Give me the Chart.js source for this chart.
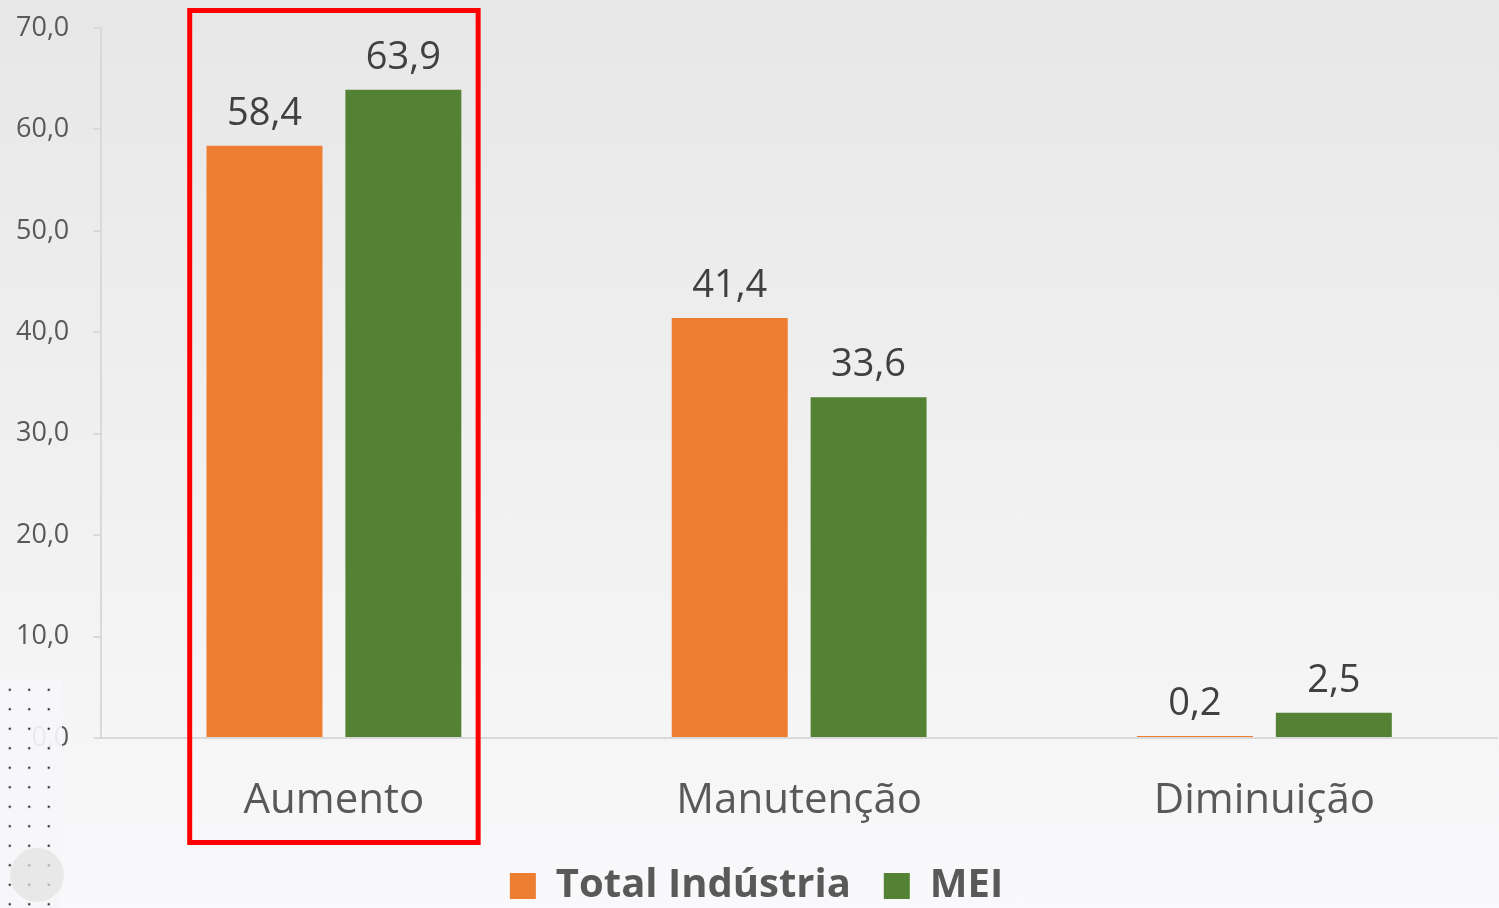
<!DOCTYPE html>
<html>
<head>
<meta charset="utf-8">
<script src="https://cdn.jsdelivr.net/npm/chart.js@4"></script>
<style>
  html, body { margin: 0; padding: 0; }
  body {
    width: 1499px; height: 908px; overflow: hidden; position: relative;
    background: linear-gradient(to bottom, #e7e7e7 0%, #f1f1f2 55%, #f9f9fb 100%);
    font-family: "Open Sans", sans-serif;
  }
  #wrap { position: absolute; left: 0; top: 0; width: 1499px; height: 908px; }
  #dots {
    position: absolute; left: 0; top: 680px; width: 62px; height: 228px;
    background-color: rgba(246,246,248,0.92);
    background-image: radial-gradient(circle, #333 1.1px, transparent 1.6px);
    background-size: 19.5px 19.5px;
  }
  #blob {
    position: absolute; left: 10px; top: 848px; width: 54px; height: 54px;
    border-radius: 50%; background: rgba(225,225,225,0.7);
  }
</style>
</head>
<body>
<div id="wrap"><canvas id="chart" width="1499" height="908"></canvas></div>
<div id="dots"></div>
<div id="blob"></div>
<script>
const categories = ["Aumento", "Manutenção", "Diminuição"];
const totalIndustria = [58.4, 41.4, 0.2];
const mei = [63.9, 33.6, 2.5];
const yTicks = [0, 10, 20, 30, 40, 50, 60, 70];

const fmt = v => v.toFixed(1).replace(".", ",");

const valueLabels = {
  id: "valueLabels",
  afterDatasetsDraw(chart) {
    const ctx = chart.ctx;
    ctx.save();
    ctx.font = "38px 'Open Sans'";
    ctx.fillStyle = "#404040";
    ctx.textAlign = "center";
    ctx.textBaseline = "alphabetic";
    chart.data.datasets.forEach((ds, i) => {
      chart.getDatasetMeta(i).data.forEach((bar, j) => {
        ctx.fillText(fmt(ds.data[j]), bar.x, bar.y - 21);
      });
    });
    ctx.restore();
  }
};

// red highlight box around the first category
const highlight = {
  id: "highlight",
  afterDraw(chart) {
    const x = chart.scales.x;
    const ctx = chart.ctx;
    const step = x.getPixelForValue(1) - x.getPixelForValue(0);
    const cx = x.getPixelForValue(0);
    const left = cx - step * 0.31, right = cx + step * 0.31;
    const top = chart.chartArea.top - 17.5, bottom = chart.chartArea.bottom + 104.5;
    ctx.save();
    ctx.strokeStyle = "#ff0000";
    ctx.lineWidth = 5;
    ctx.strokeRect(left, top, right - left, bottom - top);
    ctx.restore();
  }
};

new Chart(document.getElementById("chart"), {
  type: "bar",
  data: {
    labels: categories,
    datasets: [
      { label: "Total Indústria", data: totalIndustria, backgroundColor: "#ED7D31" },
      { label: "MEI", data: mei, backgroundColor: "#548235" }
    ]
  },
  options: {
    responsive: false,
    animation: false,
    categoryPercentage: 0.597,
    barPercentage: 0.835,
    layout: { padding: { left: 16, right: 2, top: 28, bottom: -8 } },
    plugins: {
      tooltip: { enabled: false },
      legend: {
        position: "bottom",
        labels: {
          font: { family: "Open Sans", size: 40, weight: "bold" },
          color: "#595959",
          boxWidth: 26,
          boxHeight: 26,
          padding: 33
        }
      }
    },
    scales: {
      x: {
        grid: {
          display: true, drawOnChartArea: false, drawTicks: true,
          tickLength: 31, tickColor: "rgba(0,0,0,0)"
        },
        border: { color: "#d9d9d9", width: 2 },
        ticks: {
          font: { family: "Open Sans", size: 42, lineHeight: 1.2857 },
          color: "#595959",
          padding: 5
        }
      },
      y: {
        min: 0,
        max: 70,
        afterBuildTicks: axis => { axis.ticks = yTicks.map(v => ({ value: v })); },
        grid: {
          drawOnChartArea: false, drawTicks: true, tickLength: 32,
          tickBorderDash: [0, 24, 8, 0], color: "#d9d9d9", lineWidth: 2
        },
        border: { color: "#d9d9d9", width: 2 },
        ticks: {
          font: { family: "Open Sans", size: 27 },
          color: "#595959",
          padding: 0,
          callback: v => fmt(v)
        }
      }
    }
  },
  plugins: [valueLabels, highlight]
});
</script>
</body>
</html>
